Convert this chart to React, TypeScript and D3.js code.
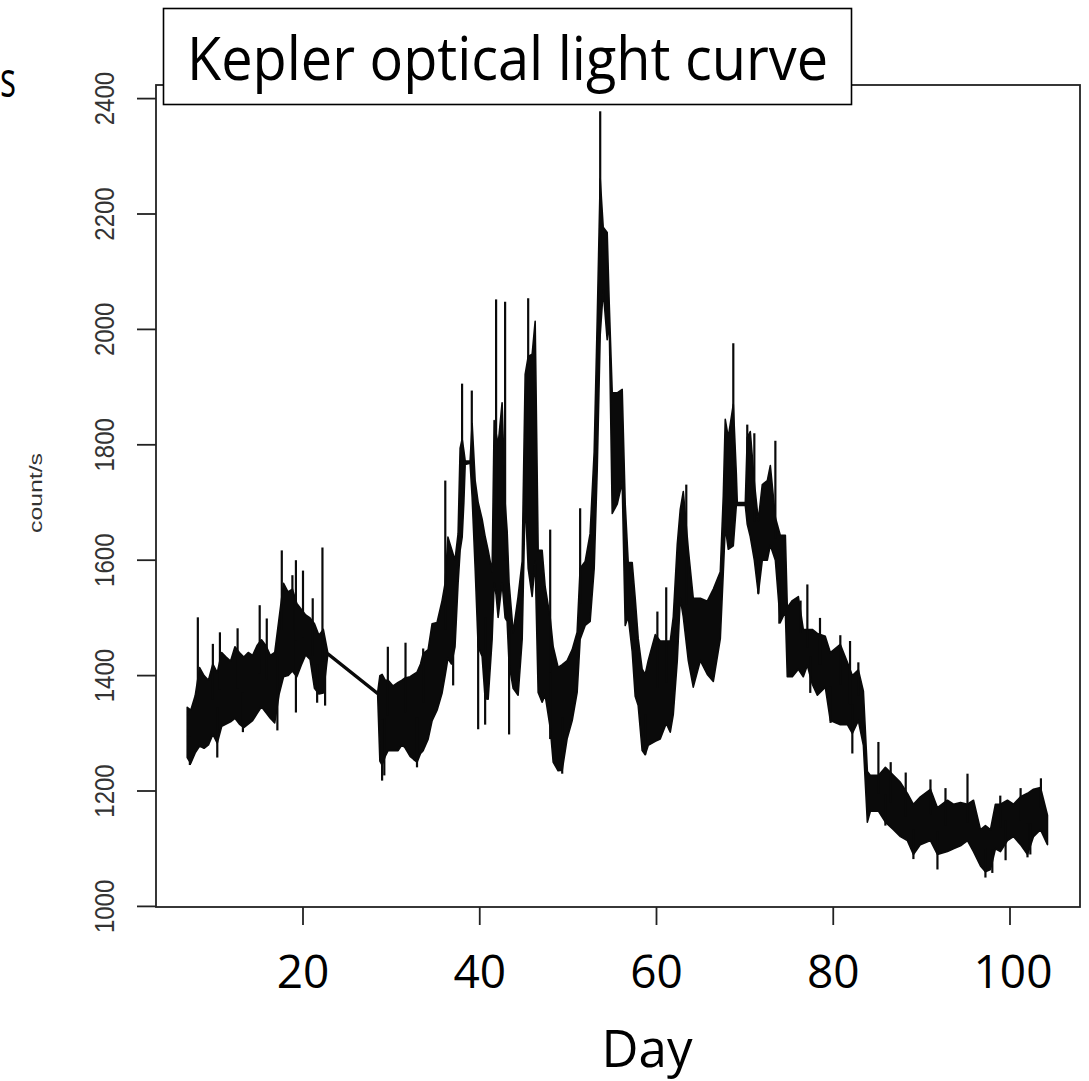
import React from "react";
import * as d3 from "d3";

const W = 1089;
const H = 1081;

// Light-curve envelope (day, band top, band bottom) in counts/s
const bandDays = [
  6.9, 7.3, 7.8, 8.3, 8.8, 9.3, 9.8, 10.3, 10.8, 11.3, 11.8, 12.3, 12.8, 13.3, 13.8, 14.3, 14.8, 15.3, 15.8, 16.3,
  16.8, 17.3, 17.8, 18.3, 18.8, 19.3, 19.8, 20.3, 20.8, 21.3, 21.8, 22.3, 22.8,
  28.45, 28.7, 28.95, 29.3, 29.63, 30.19, 30.76, 31.2, 31.55, 32.12, 32.5, 32.91, 33.3, 33.59, 34.16, 34.61, 35.17,
  35.74, 36.08, 36.4, 36.8, 37.2, 37.55, 37.78, 38.01, 38.2, 38.35, 38.91, 39.14, 39.48, 39.82, 40.27, 40.61, 40.95,
  41.4, 41.63, 41.85, 42.08, 42.53, 42.87, 43.1, 43.32, 43.78, 44.34, 44.8, 45.14, 45.48, 45.93, 46.27, 46.61, 47.06,
  47.4, 47.97, 48.31, 48.87, 49.33, 49.89, 50.46, 51.02, 51.36, 51.93, 52.49, 52.95, 53.29, 53.63, 53.97, 54.42,
  54.65, 54.99, 55.55, 56.12, 56.46, 56.8, 57.25, 57.59, 57.93, 58.38, 58.72, 59.06, 59.86, 60.42, 61.1, 61.56,
  61.9, 62.35, 62.69, 63.03, 63.6, 64.16, 64.96, 65.75, 66.43, 67.22, 67.56, 67.78, 68.12, 68.69, 69.03, 69.14,
  70.05, 70.27, 70.61, 71.07, 71.52, 71.97, 72.54, 72.88, 73.45, 74.01, 74.58, 74.8, 75.37, 76.05, 76.61, 77.07,
  77.63, 78.2, 79.1, 79.67, 80.8, 81.6, 82.16, 82.84, 83.41, 83.86, 84.2, 85.11, 85.9, 86.81, 87.6, 88.39, 89.07,
  89.86, 91.0, 91.79, 92.92, 93.6, 94.4, 95.19, 95.87, 96.66, 97.22, 97.79, 98.35, 98.92, 99.71, 100.39, 101.19,
  101.98, 102.66, 103.45, 104.24,
];
const bandHigh = [
  1345, 1340, 1365, 1414, 1400, 1392, 1420, 1405, 1440, 1432, 1425, 1450, 1440, 1432, 1440, 1435, 1452, 1462, 1452, 1435,
  1440, 1500, 1560, 1545, 1550, 1525, 1515, 1505, 1500, 1490, 1470, 1480, 1440,
  1371, 1400, 1402, 1392, 1392, 1382, 1388, 1392, 1396, 1398, 1402, 1406, 1420, 1438, 1445, 1490, 1492,
  1530, 1560, 1640, 1620, 1600, 1646, 1794, 1810, 1790, 1772, 1772, 1837, 1738, 1700, 1671, 1641, 1617,
  1580, 1842, 1820, 1800, 1873, 1700, 1650, 1561, 1475, 1537, 1598, 1922, 1953, 1957, 2014, 1617, 1617,
  1554, 1500, 1450, 1414, 1419, 1426, 1445, 1475, 1586, 1598, 1646, 1788, 2014, 2261, 2177, 2168,
  2045, 1890, 1890, 1896, 1697, 1596, 1596, 1534, 1464, 1411, 1402, 1426, 1471, 1460, 1460, 1460,
  1502, 1627, 1688, 1719, 1619, 1534, 1534, 1529, 1550, 1580, 1712, 1844, 1813, 1870, 1750, 1700,
  1700, 1813, 1823, 1735, 1669, 1731, 1738, 1764, 1674, 1643, 1643, 1518, 1530, 1537, 1480, 1480,
  1480, 1473, 1468, 1440, 1454, 1423, 1400, 1410, 1373, 1234, 1227, 1227, 1241, 1227, 1215, 1196, 1177,
  1190, 1203, 1171, 1184, 1177, 1180, 1177, 1184, 1133, 1140, 1133, 1177, 1177, 1184, 1177, 1190,
  1196, 1203, 1206, 1158,
];
const bandLow = [
  1258, 1248, 1266, 1278, 1274, 1280, 1298, 1283, 1312, 1316, 1320, 1326, 1316, 1310, 1316, 1322, 1334, 1346, 1336, 1326,
  1318, 1368, 1398, 1400, 1408, 1398, 1418, 1436, 1428, 1378, 1368, 1370, 1436,
  1367, 1252, 1245, 1260, 1270, 1270, 1270, 1280, 1275, 1260, 1255, 1250, 1265, 1270, 1290, 1322, 1340,
  1370, 1400, 1430, 1420, 1450, 1561, 1617, 1640, 1700, 1766, 1768, 1709, 1586, 1450, 1433, 1360, 1359,
  1463, 1561, 1540, 1501, 1561, 1500, 1494, 1420, 1378, 1366, 1463, 1709, 1586, 1537, 1598, 1371, 1354,
  1366, 1310, 1250, 1235, 1236, 1291, 1322, 1371, 1463, 1487, 1494, 1586, 1757, 1991, 2068, 1982,
  2014, 1681, 1697, 1735, 1487, 1502, 1442, 1364, 1348, 1270, 1263, 1279, 1286, 1290, 1317, 1302,
  1333, 1426, 1534, 1502, 1426, 1380, 1426, 1402, 1390, 1464, 1580, 1658, 1619, 1625, 1695, 1695,
  1695, 1662, 1641, 1600, 1542, 1600, 1600, 1626, 1600, 1492, 1511, 1398, 1398, 1411, 1398, 1418,
  1385, 1366, 1380, 1322, 1315, 1315, 1300, 1322, 1279, 1146, 1165, 1165, 1146, 1133, 1121, 1114, 1090,
  1107, 1114, 1090, 1095, 1100, 1105, 1114, 1095, 1070, 1060, 1064, 1100, 1095, 1114, 1121, 1107,
  1090, 1121, 1133, 1107,
];

// Isolated single-sample excursions (day, counts/s)
const spikeDays = [
  8.1, 9.8, 10.6, 12.6, 15.1, 15.9, 17.6, 18.8, 19.2, 20.0, 21.1, 22.2,
  29.6, 31.6, 33.6, 36.1, 38.0, 39.1, 41.85, 42.87, 45.48, 47.97, 51.36, 53.63, 60.1, 61.1, 63.37,
  68.69, 70.27, 71.07, 73.45, 76.3, 77.07, 78.5, 80.8, 81.9, 82.84, 85.11, 86.5, 88.2, 91.0, 92.7,
  95.19, 98.9, 101.2, 103.5,
  7.2, 10.3, 13.2, 17.1, 19.2, 21.6, 22.5, 28.95, 29.2, 32.9, 36.99, 39.82, 40.61, 43.32, 47.97,
  49.33, 58.72, 71.52, 73.9, 77.4, 79.7, 82.16, 85.9, 89.07, 91.79, 97.22, 98.0, 99.5, 101.98, 102.3,
];
const spikeValues = [
  1501, 1455, 1475, 1482, 1522, 1499, 1617, 1574, 1600, 1582, 1534, 1622,
  1450, 1457, 1447, 1738, 1906, 1894, 2052, 2048, 2054, 1653, 1690, 2378, 1511, 1553, 1731,
  1976, 1835, 1820, 1807, 1530, 1558, 1500, 1470, 1460, 1423, 1285, 1250, 1232, 1220, 1205,
  1230, 1192, 1205, 1222,
  1245, 1258, 1302, 1305, 1336, 1353, 1348, 1218, 1227, 1241, 1383, 1307, 1315, 1298, 1290,
  1230, 1263, 1542, 1490, 1370, 1318, 1265, 1140, 1082, 1064, 1050, 1058, 1080, 1085, 1090,
];

const yTicks = [1000, 1200, 1400, 1600, 1800, 2000, 2200, 2400];
const xTicks = [20, 40, 60, 80, 100];
const titleText = "Kepler optical light curve";
const xAxisTitle = "Day";
const yAxisTitle = "count/s";

export default function App() {
  const x = d3.scaleLinear().domain([20, 100]).range([303, 1010]);
  const y = d3.scaleLinear().domain([1000, 2400]).range([906.4, 98.6]);

  const band = bandDays.map((d, i) => ({ d, hi: bandHigh[i], lo: bandLow[i] }));
  const area = d3
    .area<{ d: number; hi: number; lo: number }>()
    .x((p) => x(p.d))
    .y0((p) => y(p.lo))
    .y1((p) => y(p.hi));

  const bis = d3.bisector((p: { d: number }) => p.d).center;
  const spikes = spikeDays.map((d, i) => {
    const k = bis(band, d);
    const mid = (band[k].hi + band[k].lo) / 2;
    return { d, v: spikeValues[i], base: mid };
  });

  const plotL = 156;
  const plotR = 1080;
  const plotT = 85;
  const plotB = 907;

  return (
    <svg
      width={W}
      height={H}
      style={{ position: "absolute", left: 0, top: 0, background: "#fff" }}
    >
      <rect x={0} y={0} width={W} height={H} fill="#fff" />

      {/* partial label at top-left */}
      <text
        x={0}
        y={97}
        fontFamily="Open Sans"
        fontSize={50}
        textLength={16}
        lengthAdjust="spacingAndGlyphs"
        fill="#000"
      >
        s
      </text>

      {/* data */}
      <path
        d={area(band) || ""}
        fill="#0a0a0a"
        stroke="#0a0a0a"
        strokeWidth={1.6}
        strokeLinejoin="round"
      />
      {spikes.map((s, i) => (
        <line
          key={i}
          x1={x(s.d)}
          x2={x(s.d)}
          y1={y(s.base)}
          y2={y(s.v)}
          stroke="#0a0a0a"
          strokeWidth={2.2}
        />
      ))}

      {/* plot box */}
      <rect
        x={plotL}
        y={plotT}
        width={plotR - plotL}
        height={plotB - plotT}
        fill="none"
        stroke="#222"
        strokeWidth={1.8}
      />

      {/* y axis */}
      {yTicks.map((t) => (
        <g key={t}>
          <line x1={plotL - 19} x2={plotL} y1={y(t)} y2={y(t)} stroke="#222" strokeWidth={1.8} />
          <text
            transform={`translate(114,${y(t)}) rotate(-90) scale(1,1.15)`}
            textAnchor="middle"
            fontFamily="Liberation Sans, Arial, sans-serif"
            fontSize={24}
            fill="#333"
          >
            {t}
          </text>
        </g>
      ))}
      <text
        transform={`translate(42,493) rotate(-90)`}
        textAnchor="middle"
        fontFamily="Liberation Sans, Arial, sans-serif"
        fontSize={19}
        textLength={80}
        lengthAdjust="spacingAndGlyphs"
        fill="#333"
      >
        {yAxisTitle}
      </text>

      {/* x axis */}
      {xTicks.map((t) => (
        <g key={t}>
          <line x1={x(t)} x2={x(t)} y1={plotB} y2={plotB + 18} stroke="#222" strokeWidth={1.8} />
          <text
            x={x(t) + (t === 100 ? 3 : 0)}
            y={988}
            textAnchor="middle"
            fontFamily="Open Sans"
            fontSize={46}
            fill="#000"
          >
            {t}
          </text>
        </g>
      ))}
      <text x={647} y={1067} textAnchor="middle" fontFamily="Open Sans" fontSize={51} fill="#000">
        {xAxisTitle}
      </text>

      {/* title box */}
      <rect x={163.5} y={8.5} width={688} height={96} fill="#fff" stroke="#000" strokeWidth={1.6} />
      <text
        x={187}
        y={80}
        fontFamily="Open Sans"
        fontSize={61}
        textLength={641}
        lengthAdjust="spacingAndGlyphs"
        fill="#000"
      >
        {titleText}
      </text>
    </svg>
  );
}
